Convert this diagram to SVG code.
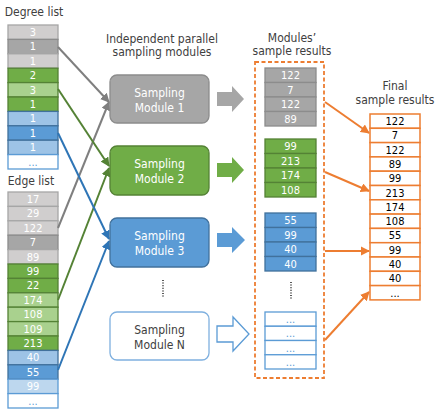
<svg xmlns="http://www.w3.org/2000/svg" width="437" height="411" viewBox="0 0 437 411">
<defs>
<style>
text{font-family:"DejaVu Sans Condensed","DejaVu Sans",sans-serif;}
.t{font-size:12px;fill:#404040;text-anchor:middle;}
.c{font-size:11px;fill:#fff;text-anchor:middle;}
.ck{font-size:11px;fill:#000;text-anchor:middle;}
.cd{font-size:11px;fill:#5b9bd5;text-anchor:middle;}
.m{font-size:12px;fill:#fff;text-anchor:middle;}
.mn{font-size:12px;fill:#404040;text-anchor:middle;}
.lg{fill:#d0cece;stroke:#a6a6a6;stroke-width:1.3;}
.dg{fill:#a6a6a6;stroke:#8c8c8c;stroke-width:1.3;}
.dgr{fill:#70ad47;stroke:#548235;stroke-width:1.3;}
.lgr{fill:#a9d18e;stroke:#548235;stroke-width:1.3;}
.db{fill:#5b9bd5;stroke:#41719c;stroke-width:1.3;}
.lb{fill:#9dc3e6;stroke:#41719c;stroke-width:1.3;}
.llb{fill:#bdd7ee;stroke:#5b9bd5;stroke-width:1.3;}
.wb{fill:#fff;stroke:#5b9bd5;stroke-width:1.3;}
.fo{fill:#fff;stroke:#ed7d31;stroke-width:1.5;}
.ln{fill:none;stroke-width:2;}
.dots{stroke:#000;stroke-width:1.3;stroke-dasharray:1,1.6;}
</style>
<marker id="ag" viewBox="0 0 10 10" refX="9" refY="5" markerWidth="4.6" markerHeight="4.6" orient="auto"><path d="M0,0 L10,5 L0,10 z" fill="#7f7f7f"/></marker>
<marker id="agr" viewBox="0 0 10 10" refX="9" refY="5" markerWidth="4.6" markerHeight="4.6" orient="auto"><path d="M0,0 L10,5 L0,10 z" fill="#548235"/></marker>
<marker id="ab" viewBox="0 0 10 10" refX="9" refY="5" markerWidth="4.6" markerHeight="4.6" orient="auto"><path d="M0,0 L10,5 L0,10 z" fill="#2e75b6"/></marker>
<marker id="ao" viewBox="0 0 10 10" refX="9" refY="5" markerWidth="4.6" markerHeight="4.6" orient="auto"><path d="M0,0 L10,5 L0,10 z" fill="#ed7d31"/></marker>
</defs>
<rect width="437" height="411" fill="#fff"/>

<g id="degree-list">
<text class="t" x="34" y="16">Degree list</text>
<rect class="lg" x="8" y="25" width="50" height="14.4"/><text class="c" x="33" y="36">3</text>
<rect class="dg" x="8" y="39.4" width="50" height="14.4"/><text class="c" x="33" y="50.4">1</text>
<rect class="lg" x="8" y="53.8" width="50" height="14.4"/><text class="c" x="33" y="64.8">1</text>
<rect class="dgr" x="8" y="68.2" width="50" height="14.4"/><text class="c" x="33" y="79.2">2</text>
<rect class="lgr" x="8" y="82.6" width="50" height="14.4"/><text class="c" x="33" y="93.6">3</text>
<rect class="dgr" x="8" y="97" width="50" height="14.4"/><text class="c" x="33" y="108">1</text>
<rect class="lb" x="8" y="111.4" width="50" height="14.4"/><text class="c" x="33" y="122.4">1</text>
<rect class="db" x="8" y="125.8" width="50" height="14.4"/><text class="c" x="33" y="136.8">1</text>
<rect class="lb" x="8" y="140.2" width="50" height="14.4"/><text class="c" x="33" y="151.2">1</text>
<rect class="wb" x="8" y="154.6" width="50" height="14.4"/><text class="cd" x="33" y="165.6">...</text>
</g>

<g id="edge-list">
<text class="t" x="31" y="185">Edge list</text>
<rect class="lg" x="8" y="192" width="50" height="14.4"/><text class="c" x="33" y="203">17</text>
<rect class="lg" x="8" y="206.4" width="50" height="14.4"/><text class="c" x="33" y="217.4">29</text>
<rect class="lg" x="8" y="220.8" width="50" height="14.4"/><text class="c" x="33" y="231.8">122</text>
<rect class="dg" x="8" y="235.2" width="50" height="14.4"/><text class="c" x="33" y="246.2">7</text>
<rect class="lg" x="8" y="249.6" width="50" height="14.4"/><text class="c" x="33" y="260.6">89</text>
<rect class="dgr" x="8" y="264" width="50" height="14.4"/><text class="c" x="33" y="275">99</text>
<rect class="dgr" x="8" y="278.4" width="50" height="14.4"/><text class="c" x="33" y="289.4">22</text>
<rect class="lgr" x="8" y="292.8" width="50" height="14.4"/><text class="c" x="33" y="303.8">174</text>
<rect class="lgr" x="8" y="307.2" width="50" height="14.4"/><text class="c" x="33" y="318.2">108</text>
<rect class="lgr" x="8" y="321.6" width="50" height="14.4"/><text class="c" x="33" y="332.6">109</text>
<rect class="dgr" x="8" y="336" width="50" height="14.4"/><text class="c" x="33" y="347">213</text>
<rect class="lb" x="8" y="350.4" width="50" height="14.4"/><text class="c" x="33" y="361.4">40</text>
<rect class="db" x="8" y="364.8" width="50" height="14.4"/><text class="c" x="33" y="375.8">55</text>
<rect class="llb" x="8" y="379.2" width="50" height="14.4"/><text class="c" x="33" y="390.2">99</text>
<rect class="wb" x="8" y="393.6" width="50" height="14.4"/><text class="cd" x="33" y="404.6">...</text>
</g>

<g id="connectors">
<line class="ln" x1="58" y1="47" x2="109" y2="102" stroke="#7f7f7f" marker-end="url(#ag)"/>
<line class="ln" x1="58" y1="228" x2="109" y2="102" stroke="#7f7f7f" marker-end="url(#ag)"/>
<line class="ln" x1="58" y1="89" x2="109" y2="166" stroke="#548235" marker-end="url(#agr)"/>
<line class="ln" x1="58" y1="300" x2="109" y2="168" stroke="#548235" marker-end="url(#agr)"/>
<line class="ln" x1="58" y1="133" x2="109" y2="239" stroke="#2e75b6" marker-end="url(#ab)"/>
<line class="ln" x1="58" y1="370" x2="109" y2="241" stroke="#2e75b6" marker-end="url(#ab)"/>
<line class="ln" x1="325" y1="102" x2="369" y2="133" stroke="#ed7d31" marker-end="url(#ao)"/>
<line class="ln" x1="325" y1="172" x2="369" y2="191" stroke="#ed7d31" marker-end="url(#ao)"/>
<line class="ln" x1="325" y1="251" x2="369" y2="251" stroke="#ed7d31" marker-end="url(#ao)"/>
<line class="ln" x1="325" y1="340" x2="369" y2="292" stroke="#ed7d31" marker-end="url(#ao)"/>
<polygon points="217,92 232,92 232,86 244,99 232,112 232,106 217,106" fill="#a6a6a6"/>
<polygon points="217,163 232,163 232,157 244,170 232,183 232,177 217,177" fill="#70ad47"/>
<polygon points="217,233 232,233 232,227 245,240 232,253 232,247 217,247" fill="#5b9bd5"/>
<polygon points="217,326 233,326 233,317 249,334 233,351 233,342 217,342" fill="#fff" stroke="#5b9bd5" stroke-width="1.3"/>
</g>

<g id="modules-title">
<text class="t" x="162" y="43">Independent parallel</text>
<text class="t" x="162" y="56">sampling modules</text>
</g>

<g id="module-1">
<rect x="110" y="75" width="99" height="48" rx="7" fill="#a6a6a6" stroke="#8c8c8c" stroke-width="1.3"/>
<text class="m" x="159.5" y="97">Sampling</text>
<text class="m" x="159.5" y="112">Module 1</text>
</g>
<g id="module-2">
<rect x="110" y="146" width="99" height="49" rx="7" fill="#70ad47" stroke="#548235" stroke-width="1.3"/>
<text class="m" x="159.5" y="168">Sampling</text>
<text class="m" x="159.5" y="183">Module 2</text>
</g>
<g id="module-3">
<rect x="110" y="218" width="99" height="49" rx="7" fill="#5b9bd5" stroke="#41719c" stroke-width="1.3"/>
<text class="m" x="159.5" y="240">Sampling</text>
<text class="m" x="159.5" y="255">Module 3</text>
</g>
<line class="dots" x1="163" y1="280" x2="163" y2="298"/>
<g id="module-n">
<rect x="110" y="312" width="99" height="48" rx="7" fill="#fff" stroke="#7fb0df" stroke-width="1.3"/>
<text class="mn" x="159.5" y="334">Sampling</text>
<text class="mn" x="159.5" y="349">Module N</text>
</g>

<g id="module-results">
<text class="t" x="292" y="42">Modules’</text>
<text class="t" x="292" y="55">sample results</text>
<rect x="255" y="62" width="69" height="316" fill="none" stroke="#ed7d31" stroke-width="1.8" stroke-dasharray="4,2.5"/>
<rect class="dg" x="265" y="68" width="51" height="14.5"/><text class="c" x="290.5" y="79">122</text>
<rect class="dg" x="265" y="82.5" width="51" height="14.5"/><text class="c" x="290.5" y="93.5">7</text>
<rect class="dg" x="265" y="97" width="51" height="14.5"/><text class="c" x="290.5" y="108">122</text>
<rect class="dg" x="265" y="111.5" width="51" height="14.5"/><text class="c" x="290.5" y="122.5">89</text>
<rect class="dgr" x="265" y="139" width="51" height="14.5"/><text class="c" x="290.5" y="150">99</text>
<rect class="dgr" x="265" y="153.5" width="51" height="14.5"/><text class="c" x="290.5" y="164.5">213</text>
<rect class="dgr" x="265" y="168" width="51" height="14.5"/><text class="c" x="290.5" y="179">174</text>
<rect class="dgr" x="265" y="182.5" width="51" height="14.5"/><text class="c" x="290.5" y="193.5">108</text>
<rect class="db" x="265" y="213" width="51" height="14.5"/><text class="c" x="290.5" y="224">55</text>
<rect class="db" x="265" y="227.5" width="51" height="14.5"/><text class="c" x="290.5" y="238.5">99</text>
<rect class="db" x="265" y="242" width="51" height="14.5"/><text class="c" x="290.5" y="253">40</text>
<rect class="db" x="265" y="256.5" width="51" height="14.5"/><text class="c" x="290.5" y="267.5">40</text>
<line class="dots" x1="291" y1="282" x2="291" y2="299"/>
<rect class="wb" x="265" y="312" width="51" height="14.25"/><text class="cd" x="290.5" y="323">...</text>
<rect class="wb" x="265" y="326.25" width="51" height="14.25"/><text class="cd" x="290.5" y="337.25">...</text>
<rect class="wb" x="265" y="340.5" width="51" height="14.25"/><text class="cd" x="290.5" y="351.5">...</text>
<rect class="wb" x="265" y="354.75" width="51" height="14.25"/><text class="cd" x="290.5" y="365.75">...</text>
</g>

<g id="final-results">
<text class="t" x="395" y="90">Final</text>
<text class="t" x="395" y="104">sample results</text>
<rect class="fo" x="370" y="114" width="50" height="14.3"/><text class="ck" x="395" y="125">122</text>
<rect class="fo" x="370" y="128.3" width="50" height="14.3"/><text class="ck" x="395" y="139.3">7</text>
<rect class="fo" x="370" y="142.6" width="50" height="14.3"/><text class="ck" x="395" y="153.6">122</text>
<rect class="fo" x="370" y="156.9" width="50" height="14.3"/><text class="ck" x="395" y="167.9">89</text>
<rect class="fo" x="370" y="171.2" width="50" height="14.3"/><text class="ck" x="395" y="182.2">99</text>
<rect class="fo" x="370" y="185.5" width="50" height="14.3"/><text class="ck" x="395" y="196.5">213</text>
<rect class="fo" x="370" y="199.8" width="50" height="14.3"/><text class="ck" x="395" y="210.8">174</text>
<rect class="fo" x="370" y="214.1" width="50" height="14.3"/><text class="ck" x="395" y="225.1">108</text>
<rect class="fo" x="370" y="228.4" width="50" height="14.3"/><text class="ck" x="395" y="239.4">55</text>
<rect class="fo" x="370" y="242.7" width="50" height="14.3"/><text class="ck" x="395" y="253.7">99</text>
<rect class="fo" x="370" y="257" width="50" height="14.3"/><text class="ck" x="395" y="268">40</text>
<rect class="fo" x="370" y="271.3" width="50" height="14.3"/><text class="ck" x="395" y="282.3">40</text>
<rect class="fo" x="370" y="285.6" width="50" height="14.3"/><text class="ck" x="395" y="296.6">...</text>
</g>
</svg>
